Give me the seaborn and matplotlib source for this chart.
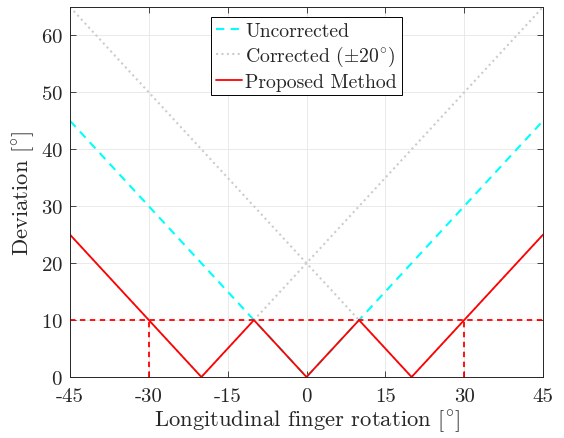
import matplotlib
matplotlib.use("Agg")
import matplotlib.pyplot as plt
import seaborn as sns

# rotation angle (deg) vs deviation (deg)
x_uncorrected = [-45, 0, 45]
y_uncorrected = [45, 0, 45]

# corrected with +20 / -20 offset
x_corr_plus = [-45, -20, 45]
y_corr_plus = [25, 0, 65]
x_corr_minus = [-45, 20, 45]
y_corr_minus = [65, 0, 25]

x_proposed = [-45, -20, -10, 0, 10, 20, 45]
y_proposed = [25, 0, 10, 0, 10, 0, 25]

threshold = 10
threshold_x = [-30, 30]

x_ticks = [-45, -30, -15, 0, 15, 30, 45]
x_ticklabels = ['-45', '-30', '-15', '0', '15', '30', '45']
y_ticks = [0, 10, 20, 30, 40, 50, 60]

sns.set_style('ticks')
plt.rcParams['font.family'] = ['cmr10', 'DejaVu Serif']
plt.rcParams['mathtext.fontset'] = 'cm'
plt.rcParams['axes.formatter.use_mathtext'] = True

fig = plt.figure(figsize=(5.64, 4.39), dpi=100)
ax = fig.add_axes([70/564, 61/439, 473/564, 370/439])

sns.lineplot(x=x_uncorrected, y=y_uncorrected, ax=ax, sort=False, color='cyan',
             linestyle=(0, (4, 3)), linewidth=1.5, label='Uncorrected')
sns.lineplot(x=x_corr_plus, y=y_corr_plus, ax=ax, sort=False, color='#cccccc',
             linestyle=(0, (1, 1.6)), linewidth=1.5, label=r'Corrected ($\pm20^{\circ}$)')
sns.lineplot(x=x_corr_minus, y=y_corr_minus, ax=ax, sort=False, color='#cccccc',
             linestyle=(0, (1, 1.6)), linewidth=1.5)
sns.lineplot(x=x_proposed, y=y_proposed, ax=ax, sort=False, color='red',
             linewidth=1.3, label='Proposed Method')

ax.axhline(threshold, color='red', linestyle=(0, (3, 2.5)), linewidth=1.3)
for tx in threshold_x:
    ax.plot([tx, tx], [0, threshold], color='red', linestyle=(0, (3, 2.5)), linewidth=1.3)

ax.set_xlim(-45, 45)
ax.set_ylim(0, 65)
ax.set_xticks(x_ticks)
ax.set_xticklabels(x_ticklabels)
ax.set_yticks(y_ticks)
ax.grid(True, color='#e6e6e6', linewidth=0.6)
ax.set_axisbelow(True)
ax.tick_params(direction='in', top=True, right=True, length=4, width=0.6,
               color='#262626', labelsize=15)
ax.tick_params(axis='x', pad=7)
ax.tick_params(axis='y', pad=5)
for s in ax.spines.values():
    s.set_color('#262626')
    s.set_linewidth(0.7)

ax.set_xlabel(r'Longitudinal finger rotation [$^{\circ}$]', fontsize=16.3, labelpad=2)
ax.set_ylabel(r'Deviation [$^{\circ}$]', fontsize=16.3, labelpad=3)

leg = ax.legend(loc='upper center', fontsize=14.2, frameon=True, fancybox=False,
                edgecolor='black', framealpha=1, handlelength=1.3, handletextpad=0.2,
                borderpad=0.25, labelspacing=0.22, borderaxespad=0.5)
leg.get_frame().set_linewidth(0.7)

fig.savefig('out.png', dpi=100)
